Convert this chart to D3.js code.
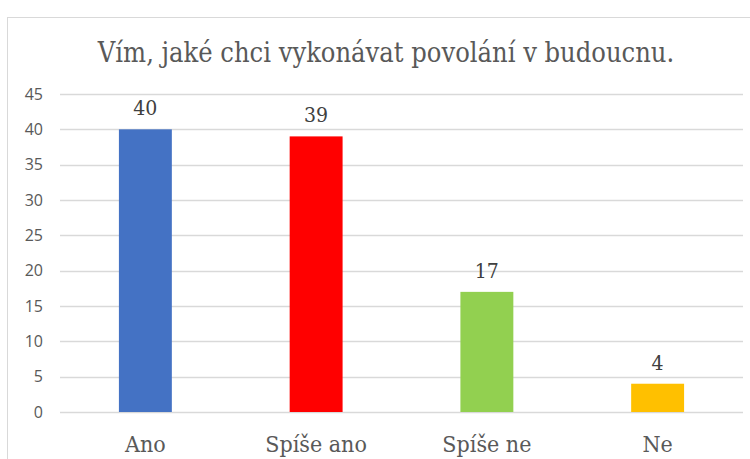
<!DOCTYPE html>
<html lang="cs">
<head>
  <meta charset="UTF-8" />
  <title>Vím, jaké chci vykonávat povolání v budoucnu.</title>
  <script src="https://cdn.jsdelivr.net/npm/d3@7/dist/d3.min.js"></script>
  <style>
    body { margin: 0; background: #fff; }
    svg { display: block; }
    .serif { font-family: 'DejaVu Serif Condensed', 'DejaVu Serif', serif; font-stretch: condensed; }
  </style>
</head>
<body>
  <div id="chart"></div>
  <script>
    // Données
    const categories = ["Ano", "Spíše ano", "Spíše ne", "Ne"];
    const values = [40, 39, 17, 4];
    const colors = ["#4472C4", "#FF0000", "#92D050", "#FFC000"];
    const yTicks = [0, 5, 10, 15, 20, 25, 30, 35, 40, 45];
    const title = "Vím, jaké chci vykonávat povolání v budoucnu.";

    const width = 750, height = 459;
    const margin = { top: 94, right: 7, bottom: 47, left: 60 };

    const svg = d3.select("#chart")
      .append("svg")
      .attr("width", width)
      .attr("height", height);

    // cadre du graphique
    svg.append("rect")
      .attr("x", 7.5)
      .attr("y", 17.5)
      .attr("width", 760)
      .attr("height", 460)
      .attr("fill", "none")
      .attr("stroke", "#d9d9d9")
      .attr("stroke-width", 1);

    const x = d3.scaleBand()
      .domain(categories)
      .range([margin.left, width - margin.right])
      .paddingInner(0.69)
      .paddingOuter(0.345);

    const y = d3.scaleLinear()
      .domain([0, 45])
      .range([height - margin.bottom, margin.top]);

    // grille
    svg.append("g")
      .selectAll("line")
      .data(yTicks)
      .enter()
      .append("line")
      .attr("x1", margin.left)
      .attr("x2", width - margin.right)
      .attr("y1", d => Math.round(y(d)) + 0.5)
      .attr("y2", d => Math.round(y(d)) + 0.5)
      .attr("stroke", "#d9d9d9")
      .attr("stroke-width", 1.3);

    // axe Y
    const yAxis = svg.append("g")
      .attr("transform", `translate(${margin.left - 17},0)`)
      .call(d3.axisLeft(y).tickValues(yTicks).tickSize(0).tickPadding(0));
    yAxis.select(".domain").remove();
    yAxis.selectAll("text")
      .style("font-family", "'Open Sans', sans-serif")
      .style("font-size", "16px")
      .style("fill", "#595959");

    // barres
    svg.append("g")
      .selectAll("rect")
      .data(values)
      .enter()
      .append("rect")
      .attr("x", (d, i) => x(categories[i]))
      .attr("y", d => y(d))
      .attr("width", x.bandwidth())
      .attr("height", d => y(0) - y(d))
      .attr("fill", (d, i) => colors[i]);

    // étiquettes de valeurs
    svg.append("g")
      .selectAll("text")
      .data(values)
      .enter()
      .append("text")
      .attr("class", "serif")
      .attr("x", (d, i) => x(categories[i]) + x.bandwidth() / 2)
      .attr("y", d => y(d) - 14)
      .attr("text-anchor", "middle")
      .style("font-size", "21px")
      .style("fill", "#404040")
      .text(d => d);

    // axe X
    svg.append("g")
      .selectAll("text")
      .data(categories)
      .enter()
      .append("text")
      .attr("class", "serif")
      .attr("x", d => x(d) + x.bandwidth() / 2)
      .attr("y", 452)
      .attr("text-anchor", "middle")
      .style("font-size", "23px")
      .style("fill", "#595959")
      .text(d => d);

    // titre
    svg.append("text")
      .attr("class", "serif")
      .attr("x", 386)
      .attr("y", 62)
      .attr("text-anchor", "middle")
      .style("font-size", "27px")
      .style("fill", "#595959")
      .text(title);
  </script>
</body>
</html>
